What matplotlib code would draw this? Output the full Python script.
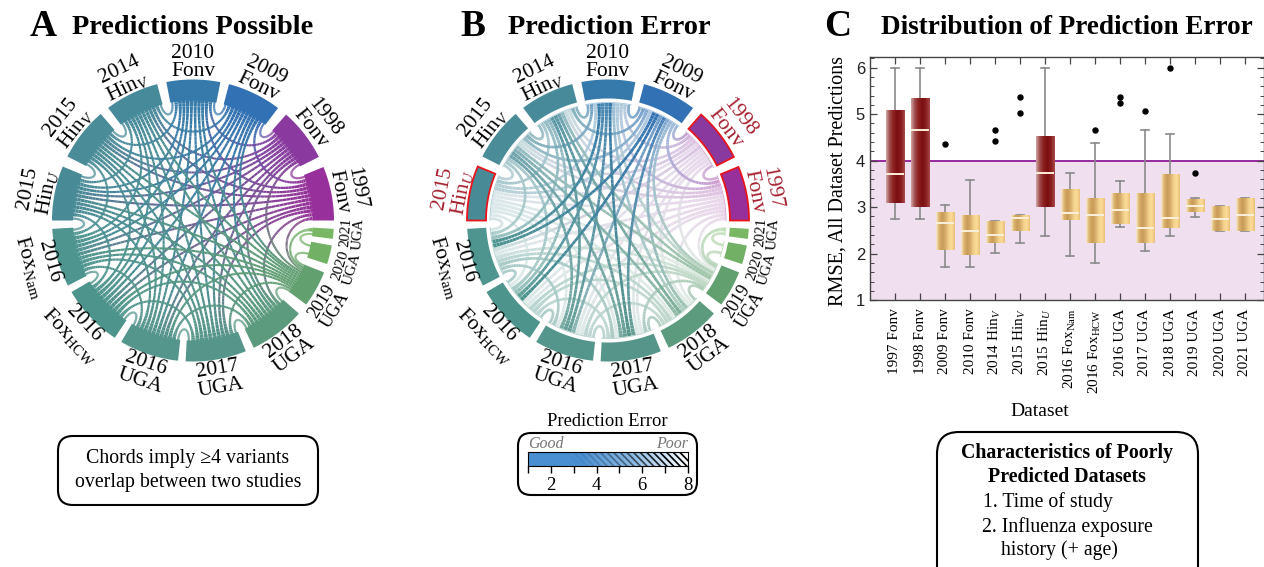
import numpy as np
import matplotlib
matplotlib.use('Agg')
import matplotlib.pyplot as plt
from matplotlib.collections import LineCollection
from matplotlib.colors import LinearSegmentedColormap, to_rgb
from matplotlib.patches import FancyBboxPatch, Polygon

plt.rcParams['font.family'] = ['Liberation Serif', 'DejaVu Sans']
plt.rcParams['mathtext.fontset'] = 'custom'
plt.rcParams['mathtext.rm'] = 'Liberation Serif'
plt.rcParams['mathtext.it'] = 'Liberation Serif:italic'
plt.rcParams['mathtext.bf'] = 'Liberation Serif:bold'

# circular panels, going counter clockwise from the east
years = ['1997', '1998', '2009', '2010', '2014', '2015', '2015', '2016', '2016', '2016', '2017', '2018', '2019', '2020', '2021']
names = ['Fonv', 'Fonv', 'Fonv', 'Fonv', r'Hin$_{\mathit{V}}$', r'Hin$_{\mathit{V}}$', r'Hin$_{\mathit{U}}$',
         r'Fox$_{\mathrm{Nam}}$', r'Fox$_{\mathrm{HCW}}$', 'UGA', 'UGA', 'UGA', 'UGA', 'UGA', 'UGA']
sector_start = [0, 26.8, 52.9, 78.8, 104.7, 130.9, 157.5, 183.4, 210.5, 239.4, 267, 295.5, 323.4, 342, 352.5]
sector_end = [22.3, 48.7, 75.2, 100.9, 127, 153, 180, 207.5, 236.3, 263.9, 292, 318.7, 338.4, 349.8, 356.6]
label_angle = [11, 38, 64, 90, 116, 142, 169, 196, 223.5, 251.6, 279.5, 307, 328, 343, 355.5]
label_size = [15.5, 15.5, 15.5, 15.5, 15.5, 15.5, 15.5, 15.5, 15.5, 15.5, 15.5, 15.5, 13, 11, 10.5]
sector_colors = ['#97309a', '#8a3a9f', '#3271b3', '#357aab', '#478b9b', '#4a8c98', '#488a96', '#4e9590',
                 '#4d958c', '#54958c', '#569589', '#5c9b7e', '#63a070', '#72b066', '#7ab765']
poor_sets = [0, 1, 6]

# mean prediction error for each chord, rows hold partners with a higher index
err_rows = [
    [4.5, 4.5, 5, 5.5, 5.5, 6, 6, 6, 6, 6, 6, 6],
    [4, 5, 5.5, 5.5, 6, 5.5, 6, 6, 6, 6, 6],
    [3, 3.5, 4, 5, 2, 2, 3.5, 2.5, 4, 4.5],
    [3, 3.5, 5, 2, 2.5, 2.5, 2, 4.5, 5],
    [3.5, 4.5, 4, 4, 2.5, 2.5, 3, 4],
    [4.5, 4.5, 4.5, 3, 3, 3.5, 4],
    [5.5, 6, 6, 6, 6, 6],
    [4, 4.5, 4.5, 5, 5.5],
    [4, 5, 5, 5],
    [4.5, 5, 5],
    [4, 4.5],
    [4],
]
ug_links = [(12, 13, 4.5), (12, 14, 4.5), (13, 14, 4.5)]

# panel C
box_labels = ['1997 Fonv', '1998 Fonv', '2009 Fonv', '2010 Fonv', r'2014 Hin$_{\mathit{V}}$', r'2015 Hin$_{\mathit{V}}$',
              r'2015 Hin$_{\mathit{U}}$', r'2016 Fox$_{\mathrm{Nam}}$', r'2016 Fox$_{\mathrm{HCW}}$',
              '2016 UGA', '2017 UGA', '2018 UGA', '2019 UGA', '2020 UGA', '2021 UGA']
q1 = [3.08, 3.01, 2.09, 1.98, 2.22, 2.48, 3.01, 2.73, 2.22, 2.63, 2.23, 2.55, 2.90, 2.49, 2.49]
q3 = [5.06, 5.34, 2.89, 2.83, 2.69, 2.82, 4.52, 3.39, 3.17, 3.28, 3.29, 3.70, 3.17, 3.02, 3.18]
med = [3.71, 4.66, 2.66, 2.48, 2.40, 2.76, 3.74, 2.88, 2.84, 2.94, 2.56, 2.77, 3.02, 2.75, 2.84]
whislo = [2.75, 2.75, 1.72, 1.72, 2.02, 2.22, 2.38, 1.96, 1.80, 2.58, 2.06, 2.39, 2.78, 2.49, 2.49]
whishi = [6, 6, 3.04, 3.59, 2.71, 2.84, 6, 3.74, 4.38, 3.56, 4.65, 4.57, 3.20, 3.03, 3.20]
fliers = [[], [], [4.35], [], [4.65, 4.43], [5.38, 5.03], [], [], [4.66], [5.36, 5.24], [5.07], [6], [3.74], [], []]
threshold = 4


def mix(col, amount):
    c = np.array(to_rgb(col))
    return tuple(c * amount + (1 - amount))


def partners():
    links = []
    for i, row in enumerate(err_rows):
        for k, e in enumerate(row):
            links.append((i, i + 1 + k, e))
    return links + ug_links


def slot_table(links):
    n = len(years)
    table = {}
    for i in range(n):
        others = [b if a == i else a for a, b, _ in links if i in (a, b)]
        others.sort(key=lambda j: -((j - i) % n))
        span = sector_end[i] - sector_start[i]
        for k, j in enumerate(others):
            table[(i, j)] = (sector_start[i] + span * (k + 0.5) / len(others), span / len(others))
    return table


def chord(ax, cx, cy, a0, a1, w0, w1, c0, c1, r, mid_w, zorder):
    p0 = np.array([np.cos(np.radians(a0)), -np.sin(np.radians(a0))]) * r
    p1 = np.array([np.cos(np.radians(a1)), -np.sin(np.radians(a1))]) * r
    sep = abs(a0 - a1)
    sep = min(sep, 360 - sep)
    k = max(0.45, 0.9 - sep / 170)
    if sep < 12:
        # short hooks between neighbours stay thin
        w0 = w1 = mid_w
    t = np.linspace(0, 1, 60)[:, None]
    pts = (1 - t)**3 * p0 + 3 * (1 - t)**2 * t * p0 * k + 3 * (1 - t) * t**2 * p1 * k + t**3 * p1
    pts = pts + [cx, cy]
    segs = np.stack([pts[:-1], pts[1:]], axis=1)
    tm = (t[:-1, 0] + t[1:, 0]) / 2
    cols = [tuple(np.array(c0) * (1 - s) + np.array(c1) * s) for s in tm]
    wid = mid_w + np.where(tm < .5, np.maximum(w0 - mid_w, 0) * (1 - 2 * tm)**7, np.maximum(w1 - mid_w, 0) * (2 * tm - 1)**7)
    ax.add_collection(LineCollection(segs, colors=cols, linewidths=wid * 0.72, capstyle='butt', zorder=zorder))


def sector_poly(cx, cy, a0, a1, r0, r1):
    th = np.radians(np.linspace(a0, a1, 40))
    outer = np.c_[cx + r1 * np.cos(th), cy - r1 * np.sin(th)]
    inner = np.c_[cx + r0 * np.cos(th[::-1]), cy - r0 * np.sin(th[::-1])]
    return np.vstack([outer, inner])


def circle_panel(ax, cx, cy, show_error):
    links = partners()
    slots = slot_table(links)
    if show_error:
        links = sorted(links, key=lambda l: -l[2])
    for z, (a, b, e) in enumerate(links):
        a0, w0 = slots[(a, b)]
        a1, w1 = slots[(b, a)]
        r_end = 117.5 if show_error else 121
        w0 = np.radians(w0) * r_end
        w1 = np.radians(w1) * r_end
        opac = 1 - 0.8 * np.clip((e - 2) / 4, 0, 1) if show_error else 1
        chord(ax, cx, cy, a0, a1, w0, w1, mix(sector_colors[a], opac), mix(sector_colors[b], opac),
              r_end, 2.6 if show_error else 2.1, 2 + z * 0.001)
    for i in range(len(years)):
        a0, a1 = sector_start[i], sector_end[i]
        r0 = 122 if show_error else 120
        edge = 'none'
        if show_error and i in poor_sets:
            edge = '#e8141c'
        ax.add_patch(Polygon(sector_poly(cx, cy, a0, a1, r0, 141), closed=True, fc=sector_colors[i], ec=edge,
                             lw=1.3, zorder=4))
        if show_error:
            th = np.radians(np.linspace(a0, a1, 30))
            ax.plot(cx + 118 * np.cos(th), cy - 118 * np.sin(th), color=mix(sector_colors[i], 0.45), lw=0.6, zorder=3)
        mid = label_angle[i]
        if mid <= 180:
            rot = mid - 90
            r_lab = 158
        else:
            rot = mid + 90
            r_lab = 160
        col = '#a5202f' if show_error and i in poor_sets else 'black'
        ax.text(cx + r_lab * np.cos(np.radians(mid)), cy - r_lab * np.sin(np.radians(mid)), years[i] + '\n' + names[i],
                rotation=rot, rotation_mode='anchor', ha='center', va='center', ma='center', fontsize=label_size[i],
                linespacing=0.95, color=col, zorder=5)


fig = plt.figure(figsize=(12.64, 5.67), dpi=100)
W, H = 1264, 567
bg = fig.add_axes([0, 0, 1, 1])
bg.set_xlim(0, W)
bg.set_ylim(H, 0)
bg.axis('off')

circle_panel(bg, 193, 220.5, False)
circle_panel(bg, 608, 220.5, True)

for letter, x in [('A', 43), ('B', 473), ('C', 838)]:
    bg.text(x, 27, letter, fontsize=27, fontweight='bold', ha='center', va='center')
bg.text(193, 27, 'Predictions Possible', fontsize=20.3, fontweight='bold', ha='center', va='center')
bg.text(609, 27, 'Prediction Error', fontsize=20.3, fontweight='bold', ha='center', va='center')
bg.text(1067, 27, 'Distribution of Prediction Error', fontsize=19.5, fontweight='bold', ha='center', va='center')


def round_box(x0, y0, x1, y1, rad):
    bg.add_patch(FancyBboxPatch((x0, y0), x1 - x0, y1 - y0, boxstyle='round,pad=0,rounding_size=%d' % rad,
                                fc='white', ec='black', lw=1.5, zorder=1))


round_box(58, 436, 318, 505, 15)
bg.text(188, 458, 'Chords imply ≥4 variants', fontsize=14.3, ha='center', va='center')
bg.text(188, 482, 'overlap between two studies', fontsize=14.3, ha='center', va='center')

bg.text(607, 421, 'Prediction Error', fontsize=13.3, ha='center', va='center')
round_box(518, 433, 697, 495, 13)
bg.text(528, 444, 'Good', fontsize=11.5, style='italic', color='#777777', ha='left', va='center')
bg.text(688, 444, 'Poor', fontsize=11.5, style='italic', color='#777777', ha='right', va='center')

round_box(937, 432, 1198, 590, 22)
bg.text(1067, 453, 'Characteristics of Poorly', fontsize=14.3, fontweight='bold', ha='center', va='center')
bg.text(1067, 477, 'Predicted Datasets', fontsize=14.3, fontweight='bold', ha='center', va='center')
bg.text(983, 502, '1. Time of study', fontsize=14.2, ha='left', va='center')
bg.text(982, 527, '2. Influenza exposure', fontsize=14.2, ha='left', va='center')
bg.text(1001, 550, 'history (+ age)', fontsize=14.2, ha='left', va='center')

# error colour bar
cb = fig.add_axes([528 / W, 1 - 466 / H, 160 / W, 14 / H])
bar_cmap = LinearSegmentedColormap.from_list('err', ['#4a8fd2', '#4a8fd2', '#8dbce6', '#ffffff'])
cb.imshow(np.linspace(0, 1, 200)[None, :], extent=[1, 8, 0, 1], aspect='auto', cmap=bar_cmap)
for x in np.arange(3.0, 8.2, 0.29):
    cb.plot([x - 0.3, x + 0.3], [1, 0], color='black', lw=1.2, alpha=min(1, (x - 2.8) / 4.2) ** 1.3, clip_on=True)
cb.set_xlim(1, 8)
cb.set_ylim(0, 1)
cb.set_yticks([])
cb.set_xticks(range(1, 9))
cb.set_xticklabels(['', '2', '', '4', '', '6', '', '8'], fontsize=13.5)
cb.tick_params(axis='x', length=5, width=1, pad=3)

# box plot panel
ax = fig.add_axes([870 / W, 1 - 300.2 / H, 394 / W, 243.2 / H])
ax.axhspan(1, threshold, color='#efdfef', lw=0, zorder=0)
ax.axhline(threshold, color='#8e1a96', lw=1.3, zorder=1)
stats = [dict(med=med[i], q1=q1[i], q3=q3[i], whislo=whislo[i], whishi=whishi[i], fliers=fliers[i])
         for i in range(len(med))]
pos = np.arange(1, len(med) + 1)
ax.bxp(stats, positions=pos, widths=0.73, capwidths=0.34, manage_ticks=False,
       boxprops=dict(lw=0, color='none'),
       whiskerprops=dict(color='#8a8a8a', lw=1.2),
       capprops=dict(color='#8a8a8a', lw=1.2),
       medianprops=dict(color='#fbf0dc', lw=1.4, zorder=6),
       flierprops=dict(marker='o', mfc='black', mec='black', ms=3.6))
red_cmap = LinearSegmentedColormap.from_list('r', ['#cfa6a6', '#a04a4a', '#8c1f20', '#7a0f12', '#8a1d1e', '#a84a4a'])
gold_cmap = LinearSegmentedColormap.from_list('g', ['#f7ead0', '#dcb26a', '#c89b58', '#d6ad69', '#f2d08c', '#fcdc98', '#e8bf78'])
for i, p in enumerate(pos):
    cm = red_cmap if med[i] > 3.5 else gold_cmap
    ax.imshow(np.linspace(0, 1, 64)[None, :], extent=[p - 0.365, p + 0.365, q1[i], q3[i]], aspect='auto',
              cmap=cm, zorder=5)
ax.set_xlim(0, 15.76)
ax.set_ylim(1, 6.23)
ax.set_xticks(pos)
ax.set_xticklabels(box_labels, rotation=90, fontsize=11)
ax.set_yticks(range(1, 7))
ax.set_yticks(np.arange(1, 6.21, 0.2), minor=True)
for lab in ax.get_yticklabels():
    lab.set_fontfamily('Liberation Sans')
    lab.set_fontsize(12)
    lab.set_color('#222222')
ax.tick_params(axis='both', which='major', direction='in', top=True, right=True, length=5, width=0.9, color='#444444')
ax.tick_params(axis='y', which='minor', direction='in', right=True, length=3, width=0.7, color='#444444')
ax.tick_params(axis='x', pad=6)
for s in ax.spines.values():
    s.set_color('#444444')
    s.set_linewidth(1.0)
bg.text(838, 181, 'RMSE, All Dataset Predictions', fontsize=14.5, rotation=90, ha='center', va='center')
bg.text(1040, 411, 'Dataset', fontsize=14, ha='center', va='center')

fig.savefig('out.png', dpi=100)
